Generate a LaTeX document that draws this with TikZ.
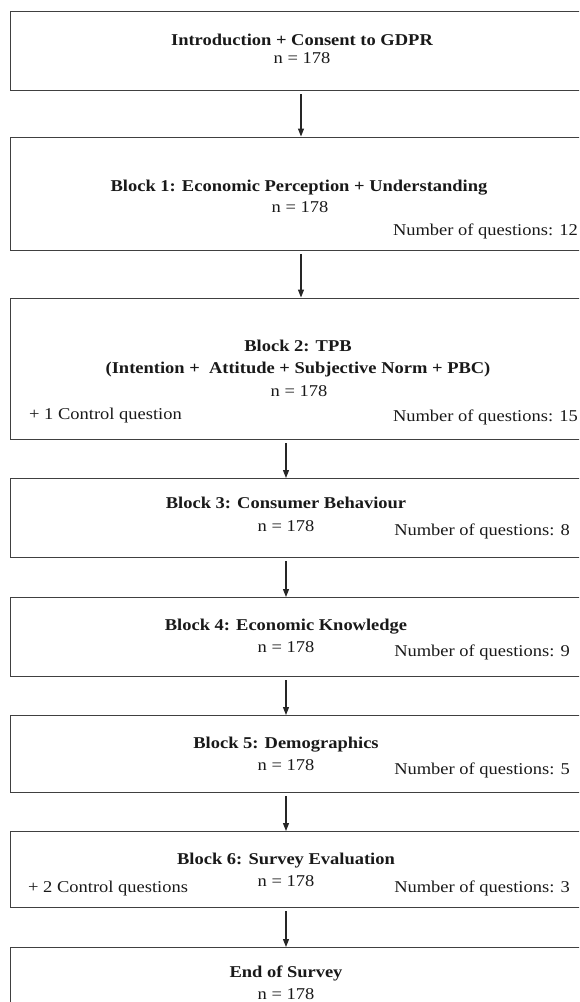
\documentclass[tikz,border=0pt]{standalone}
\usepackage{fontspec}
\setmainfont[FakeStretch=1.12]{Liberation Serif}
\usetikzlibrary{arrows.meta}

\begin{document}
\begin{tikzpicture}
          [x = 1pt, y = -1pt,
           every node/.style = {inner sep = 0pt, text = black!90, font = \fontsize{16.5}{19}\selectfont},
           block/.style      = {draw = black!75, line width = 1.3pt, anchor = north west,
                                minimum width = 640pt, minimum height = #1},
           heading/.style    = {anchor = base, font = \fontsize{16.5}{19}\selectfont\bfseries},
           count/.style      = {anchor = base},
           numq/.style       = {anchor = base east},
           extra/.style      = {anchor = base west},
           flow/.style       = {draw = black!85, line width = 1.2pt, shorten <= 3pt,
                                -{Triangle[length = 8pt, width = 6pt]}},
          ]

% page size, boxes run past the right and bottom edge
\useasboundingbox (0,0) rectangle (579,1002);
\clip (0,0) rectangle (579,1002);

% axes of the arrows
\coordinate (upperaxis) at (301,0);
\coordinate (loweraxis) at (286,0);

% Boxes
\node [block = 78.7pt] (intro)  at (10,11)  {};
\node [block = 113pt]  (block1) at (10,136.5) {};
\node [block = 141.5pt](block2) at (10,297.5) {};
\node [block = 79pt]   (block3) at (10,478) {};
\node [block = 79pt]   (block4) at (10,597) {};
\node [block = 76.7pt] (block5) at (10,715) {};
\node [block = 76pt]   (block6) at (10,831) {};
\node [block = 83pt]   (final)  at (10,947) {};

% Texts
\node [heading] (introT) at (302,45) {Introduction + Consent to GDPR};
\node [count]   (introN) at (302,63) {n = 178};

\node [heading] (block1T) at (299,191) {Block 1: Economic Perception + Understanding};
\node [count]   (block1N) at (300,212) {n = 178};
\node [numq]    (block1Q) at (578,235) {Number of questions: 12};

\node [heading] (block2T) at (298,351) {Block 2: TPB};
\node [heading] (block2S) at (298,373) {(Intention +~ Attitude + Subjective Norm + PBC)};
\node [count]   (block2N) at (299,396) {n = 178};
\node [extra]   (block2C) at (29,419)  {+ 1 Control question};
\node [numq]    (block2Q) at (578,421) {Number of questions: 15};

\node [heading] (block3T) at (286,508) {Block 3: Consumer Behaviour};
\node [count]   (block3N) at (286,531) {n = 178};
\node [numq]    (block3Q) at (570,535) {Number of questions: 8};

\node [heading] (block4T) at (286,630) {Block 4: Economic Knowledge};
\node [count]   (block4N) at (286,652) {n = 178};
\node [numq]    (block4Q) at (570,656) {Number of questions: 9};

\node [heading] (block5T) at (286,748) {Block 5: Demographics};
\node [count]   (block5N) at (286,770) {n = 178};
\node [numq]    (block5Q) at (570,774) {Number of questions: 5};

\node [heading] (block6T) at (286,864) {Block 6: Survey Evaluation};
\node [count]   (block6N) at (286,886) {n = 178};
\node [extra]   (block6C) at (28,892)  {+ 2 Control questions};
\node [numq]    (block6Q) at (570,892) {Number of questions: 3};

\node [heading] (finalT) at (286,977) {End of Survey};
\node [count]   (finalN) at (286,999) {n = 178};

% Arrows
\path [flow] (intro.south  -| upperaxis) -- (block1.north -| upperaxis);
\path [flow] (block1.south -| upperaxis) -- (block2.north -| upperaxis);
\path [flow] (block2.south -| loweraxis) -- (block3.north -| loweraxis);
\path [flow] (block3.south -| loweraxis) -- (block4.north -| loweraxis);
\path [flow] (block4.south -| loweraxis) -- (block5.north -| loweraxis);
\path [flow] (block5.south -| loweraxis) -- (block6.north -| loweraxis);
\path [flow] (block6.south -| loweraxis) -- (final.north  -| loweraxis);

\end{tikzpicture}
\end{document}
